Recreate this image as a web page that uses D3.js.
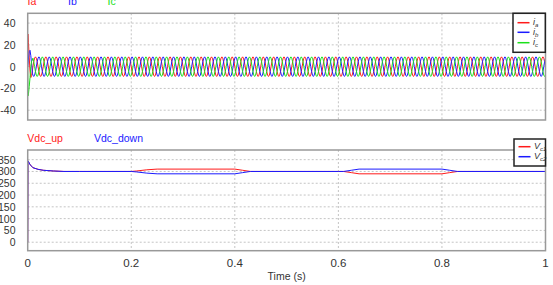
<!DOCTYPE html>
<html>
<head>
<meta charset="utf-8">
<script src="https://cdn.jsdelivr.net/npm/d3@7"></script>
<style>
  body { margin: 0; background: #fff; }
  svg { display: block; }
  text { font-family: "Liberation Sans", Arial, sans-serif; }
</style>
</head>
<body>
<svg id="chart" width="553" height="285"></svg>
<script>
// axis ticks
let timeTicks = [0, 0.2, 0.4, 0.6, 0.8, 1];
let timeTickLabels = ['0', '0.2', '0.4', '0.6', '0.8', '1'];
let currentTicks = [40, 20, 0, -20, -40];
let voltageTicks = [350, 300, 250, 200, 150, 100, 50, 0];

// phase currents: startup transient (A)
let startTime = [0, 0.0005, 0.0015, 0.003, 0.0045, 0.006, 0.0075, 0.009];
let startIa = [0, 30, 22, 8, -4, -10, -8, -4];
let startIb = [0, 2, 8, 14, 15, 10, 3, -6];
let startIc = [0, -27, -25, -18, -10, 0, 5, 6];

// phase currents: one steady-state cycle, 12 samples, repeated to t = 1 s
let cycleStart = 0.01;
let cyclePeriod = 0.02;
let cycleIa = [0, 4.5, 7.8, 9, 7.8, 4.5, 0, -4.5, -7.8, -9, -7.8, -4.5];
let cycleIb = [-7.8, -9, -7.8, -4.5, 0, 4.5, 7.8, 9, 7.8, 4.5, 0, -4.5];
let cycleIc = [7.8, 4.5, 0, -4.5, -7.8, -9, -7.8, -4.5, 0, 4.5, 7.8, 9];

// dc-link capacitor voltages (V)
let vdcTime = [0, 0.0005, 0.005, 0.01, 0.02, 0.03, 0.05, 0.07, 0.1, 0.2, 0.21, 0.23, 0.25,
  0.4, 0.415, 0.43, 0.6, 0.61, 0.625, 0.64, 0.8, 0.815, 0.83, 1.0];
let vdcUp = [0, 345, 328, 316, 309, 305, 302, 300, 300, 300, 302, 307, 310,
  310, 305, 300, 300, 300, 295, 290, 290, 295, 300, 300];
let vdcDown = [0, 345, 328, 316, 309, 305, 302, 300, 300, 300, 298, 293, 290,
  290, 295, 300, 300, 300, 305, 310, 310, 305, 300, 300];

let red = '#ff1a1a';
let blue = '#1a1aff';
let green = '#1ae01a';

let svg = d3.select('#chart');

let x = d3.scaleLinear().domain([0, 1]).range([27.7, 545.5]);
let yCur = d3.scaleLinear().domain([-49, 49]).range([120, 13.3]);
let yVdc = d3.scaleLinear().domain([-36, 391]).range([250.7, 150]);

// build the current series: transient points then the repeated cycle
function currentSeries(startVals, cycleVals) {
  let pts = startTime.map((t, i) => ({t: t, v: startVals[i]}));
  let n = cycleVals.length;
  for (let k = 0; cycleStart + k * cyclePeriod <= 1; k++) {
    for (let j = 0; j < n; j++) {
      let t = cycleStart + k * cyclePeriod + j * cyclePeriod / n;
      if (t > 1) break;
      pts.push({t: t, v: cycleVals[j]});
    }
  }
  return pts;
}

function drawPanel(y, yTicks, id) {
  let g = svg.append('g');
  let [r0, r1] = y.range();
  g.append('clipPath').attr('id', id)
      .append('rect').attr('x', x(0)).attr('y', r1)
      .attr('width', x(1) - x(0)).attr('height', r0 - r1);

  // grid
  g.selectAll('.hgrid').data(yTicks).enter().append('line')
      .attr('x1', x(0)).attr('x2', x(1))
      .attr('y1', (d) => y(d)).attr('y2', (d) => y(d))
      .attr('stroke', '#c4c4c4').attr('stroke-dasharray', '2,2');
  g.selectAll('.vgrid').data(timeTicks.slice(1, -1)).enter().append('line')
      .attr('x1', (d) => x(d)).attr('x2', (d) => x(d))
      .attr('y1', r1).attr('y2', r0)
      .attr('stroke', '#c4c4c4').attr('stroke-dasharray', '2,2');

  // y tick labels
  g.selectAll('.ylab').data(yTicks).enter().append('text')
      .attr('x', 15.5).attr('y', (d) => y(d) + 4)
      .attr('text-anchor', 'end').attr('font-size', 10.5).attr('fill', '#333')
      .text((d) => d);
  return g;
}

let topPanel = drawPanel(yCur, currentTicks, 'clipTop');
let bottomPanel = drawPanel(yVdc, voltageTicks, 'clipBottom');

let curLine = d3.line().x((d) => x(d.t)).y((d) => yCur(d.v));
[[startIa, cycleIa, red], [startIb, cycleIb, blue], [startIc, cycleIc, green]].forEach(([s, c, col]) => {
  topPanel.append('path').datum(currentSeries(s, c))
      .attr('clip-path', 'url(#clipTop)')
      .attr('fill', 'none').attr('stroke', col).attr('stroke-width', 1)
      .attr('d', curLine);
});

let vdcLine = d3.line().x((d, i) => x(vdcTime[i])).y((d) => yVdc(d));
bottomPanel.append('path').datum(vdcUp).attr('clip-path', 'url(#clipBottom)')
    .attr('fill', 'none').attr('stroke', red).attr('stroke-width', 1).attr('d', vdcLine);
bottomPanel.append('path').datum(vdcDown).attr('clip-path', 'url(#clipBottom)')
    .attr('fill', 'none').attr('stroke', blue).attr('stroke-width', 1).attr('d', vdcLine);

// frames
[yCur, yVdc].forEach((y) => {
  let [r0, r1] = y.range();
  svg.append('rect').attr('x', x(0)).attr('y', r1)
      .attr('width', x(1) - x(0)).attr('height', r0 - r1)
      .attr('fill', 'none').attr('stroke', '#999').attr('stroke-width', 1.5);
});

// x axis labels
svg.selectAll('.xlab').data(timeTicks).enter().append('text')
    .attr('x', (d) => x(d)).attr('y', 266.5)
    .attr('text-anchor', 'middle').attr('font-size', 11.5).attr('fill', '#333')
    .text((d, i) => timeTickLabels[i]);
svg.append('text').attr('x', (x(0) + x(1)) / 2).attr('y', 279.5)
    .attr('text-anchor', 'middle').attr('font-size', 10.5).attr('fill', '#333')
    .text('Time (s)');

// panel titles
[['Ia', 27.5, red], ['Ib', 68, blue], ['Ic', 107.5, green]].forEach(([t, px, col]) => {
  svg.append('text').attr('x', px).attr('y', 5).attr('font-size', 10.5).attr('fill', col).text(t);
});
[['Vdc_up', 27.3, red], ['Vdc_down', 94, blue]].forEach(([t, px, col]) => {
  svg.append('text').attr('x', px).attr('y', 141.7).attr('font-size', 10.5).attr('fill', col).text(t);
});

// legends
function legend(bx, by, bw, bh, items) {
  svg.append('rect').attr('x', bx).attr('y', by).attr('width', bw).attr('height', bh)
      .attr('fill', '#fff').attr('stroke', '#222').attr('stroke-width', 1.5);
  items.forEach((it) => {
    svg.append('line').attr('x1', bx + 4.5).attr('x2', bx + 16.5)
        .attr('y1', it.y).attr('y2', it.y)
        .attr('stroke', it.color).attr('stroke-width', 1.5);
    let t = svg.append('text').attr('x', bx + 20).attr('y', it.y + 2.5)
        .attr('font-family', '"Liberation Serif", "DejaVu Serif", serif')
        .attr('font-style', 'italic').attr('font-size', 9).attr('fill', '#333');
    t.append('tspan').text(it.main);
    t.append('tspan').attr('dy', 2).attr('font-size', 6).text(it.sub);
  });
}
legend(513, 13.3, 32.3, 39, [
  {y: 22.7, color: red, main: 'i', sub: 'a'},
  {y: 32.3, color: blue, main: 'i', sub: 'b'},
  {y: 42.7, color: green, main: 'i', sub: 'c'},
]);
legend(514, 139, 31.5, 27, [
  {y: 146.7, color: red, main: 'V', sub: 'c1'},
  {y: 156.7, color: blue, main: 'V', sub: 'c2'},
]);
</script>
</body>
</html>
